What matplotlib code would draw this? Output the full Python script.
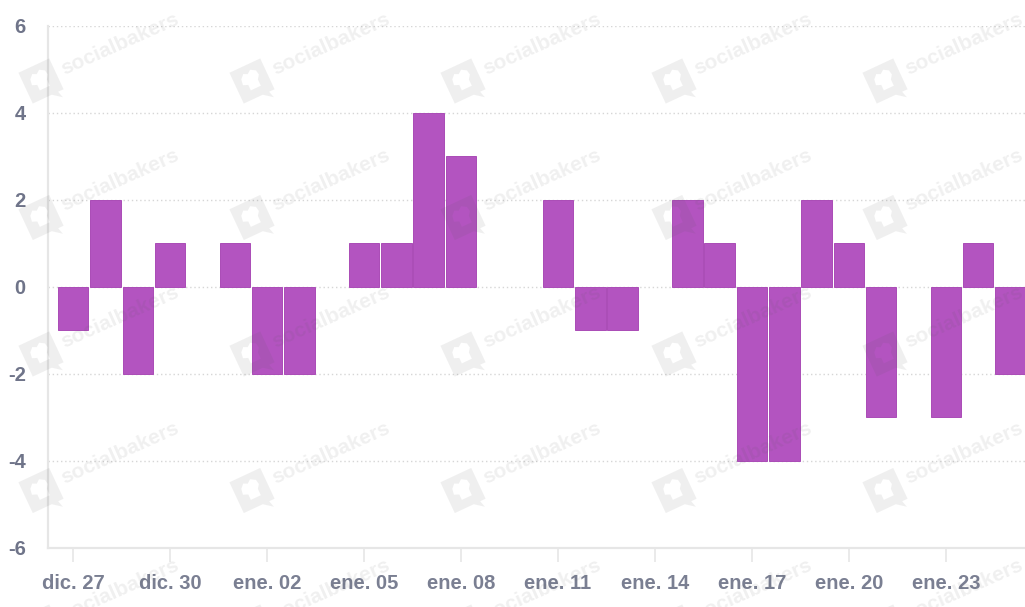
import numpy as np
import matplotlib
matplotlib.use('Agg')
import matplotlib.pyplot as plt
from matplotlib.path import Path
from matplotlib.patches import PathPatch

values = [-1, 2, -2, 1, 0, 1, -2, -2, 0, 1, 1, 4, 3, 0, 0, 2, -1, -1, 0, 2, 1, -4, -4, 2, 1, -3, 0, -3, 1, -2]
tick_pos = [0, 3, 6, 9, 12, 15, 18, 21, 24, 27]
tick_labels = ['dic. 27', 'dic. 30', 'ene. 02', 'ene. 05', 'ene. 08', 'ene. 11', 'ene. 14', 'ene. 17', 'ene. 20', 'ene. 23']
y_ticks = [-6, -4, -2, 0, 2, 4, 6]

W, H = 1025, 607
plt.rcParams['font.family'] = ['Liberation Sans', 'DejaVu Sans']
text_col = '#6f7489'
line_col = '#e6e6e6'

fig = plt.figure(figsize=(W / 100, H / 100), dpi=100)
ax = fig.add_axes([48 / W, 1 - 547.6 / H, (W - 48) / W, 522 / H])

# days with 0 have no visible bar
days = [i for i, v in enumerate(values) if v != 0]
ax.bar(days, [values[i] for i in days], width=0.94, color='#b354c0', edgecolor='#aa4cb6', linewidth=0.7, zorder=3)
ax.set_xlim(-0.775, 29.445)
ax.set_ylim(-6, 6)

ax.set_yticks(y_ticks)
ax.set_yticklabels([str(v) for v in y_ticks], fontsize=14.5, fontweight='bold', color=text_col)
ax.set_xticks(tick_pos)
ax.set_xticklabels(tick_labels, fontsize=14.5, color=text_col)
ax.tick_params(axis='y', length=0, pad=16)
ax.tick_params(axis='x', length=10, width=1.2, color=line_col, pad=9)
for lab in ax.get_xticklabels():
    lab.set_fontweight('bold')
    lab.set_alpha(0.92)

ax.grid(axis='y', color='#d6d6d6', linestyle=(0, (1, 2)), linewidth=1, zorder=1)
ax.set_axisbelow(True)
for s in ['top', 'right']:
    ax.spines[s].set_visible(False)
for s in ['left', 'bottom']:
    ax.spines[s].set_color(line_col)
    ax.spines[s].set_linewidth(1.6)

# watermark layer, in pixels
wm = fig.add_axes([0, 0, 1, 1], zorder=5)
wm.set_xlim(0, W)
wm.set_ylim(H, 0)
wm.axis('off')
wm.patch.set_alpha(0)

a = np.radians(25)
square = [(-17, -17), (17, -17), (17, 17), (11, 17), (13, 24), (4, 17), (-17, 17), (-17, -17)]
hat = [(-9, -6), (-5, -10), (-1, -8), (3, -11), (8, -8), (9, -3), (6, 1), (6, 8), (-5, 8), (-5, 2), (-10, 0), (-9, -6)]


def rotated(pts, cx, cy):
    p = np.array(pts, dtype=float)
    x = p[:, 0] * np.cos(a) + p[:, 1] * np.sin(a) + cx
    y = -p[:, 0] * np.sin(a) + p[:, 1] * np.cos(a) + cy
    return np.column_stack([x, y])


for cx in [41, 252, 463, 674, 885]:
    for cy in [81, 217.5, 354, 490.5, 627]:
        outer = rotated(square, cx, cy)
        inner = rotated(hat, cx, cy)[::-1]
        verts = np.vstack([outer, inner])
        codes = [Path.MOVETO] + [Path.LINETO] * (len(outer) - 2) + [Path.CLOSEPOLY]
        codes += [Path.MOVETO] + [Path.LINETO] * (len(inner) - 2) + [Path.CLOSEPOLY]
        wm.add_patch(PathPatch(Path(verts, codes), facecolor='#555555', edgecolor='none', alpha=0.09))
        wm.text(cx + 79, cy - 37, 'socialbakers', fontsize=15, fontweight='bold', color='#555555', alpha=0.09,
                rotation=24, rotation_mode='anchor', ha='center', va='center', clip_on=True)

fig.savefig('out.png', dpi=100)
